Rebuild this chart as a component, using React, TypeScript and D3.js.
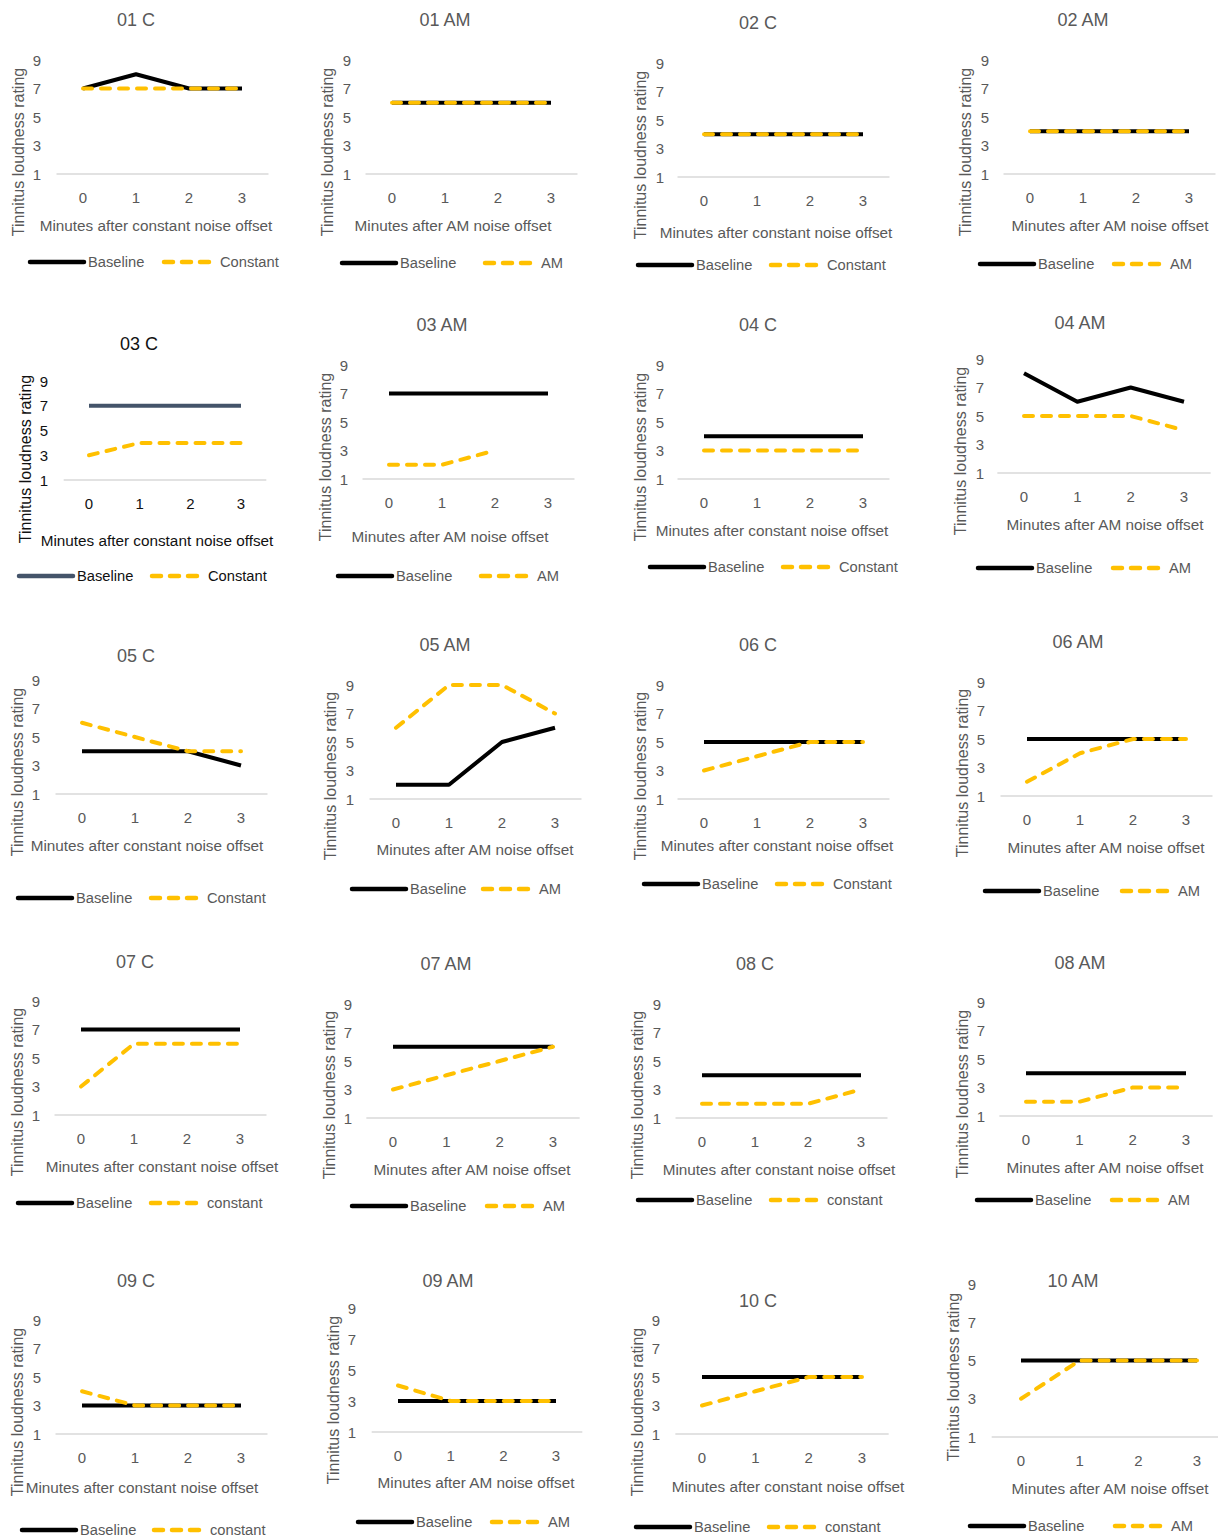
import React from "react";
import * as d3 from "d3";

// data
const minutes = [0, 1, 2, 3];
const yTicks = [1, 3, 5, 7, 9];
const panelTitles = ["01 C", "01 AM", "02 C", "02 AM", "03 C", "03 AM", "04 C", "04 AM", "05 C", "05 AM",
  "06 C", "06 AM", "07 C", "07 AM", "08 C", "08 AM", "09 C", "09 AM", "10 C", "10 AM"];
const noiseLabels = ["Constant", "AM", "Constant", "AM", "Constant", "AM", "Constant", "AM", "Constant", "AM",
  "Constant", "AM", "constant", "AM", "constant", "AM", "constant", "AM", "constant", "AM"];
const baseline: (number | null)[][] = [
  [7, 8, 7, 7], [6, 6, 6, 6], [4, 4, 4, 4], [4, 4, 4, 4],
  [7, 7, 7, 7], [7, 7, 7, 7], [4, 4, 4, 4], [8, 6, 7, 6],
  [4, 4, 4, 3], [2, 2, 5, 6], [5, 5, 5, 5], [5, 5, 5, 5],
  [7, 7, 7, 7], [6, 6, 6, 6], [4, 4, 4, 4], [4, 4, 4, 4],
  [3, 3, 3, 3], [3, 3, 3, 3], [5, 5, 5, 5], [5, 5, 5, 5],
];
const afterNoise: (number | null)[][] = [
  [7, 7, 7, 7], [6, 6, 6, 6], [4, 4, 4, 4], [4, 4, 4, 4],
  [3, 4, 4, 4], [2, 2, 3, null], [3, 3, 3, 3], [5, 5, 5, 4],
  [6, 5, 4, 4], [6, 9, 9, 7], [3, 4, 5, 5], [2, 4, 5, 5],
  [3, 6, 6, 6], [3, 4, 5, 6], [2, 2, 2, 3], [2, 2, 3, 3],
  [4, 3, 3, 3], [4, 3, 3, 3], [3, 4, 5, 5], [3, 5, 5, 5],
];

// layout of each small chart: [titleX, titleY, tickLabelX, y9, y1, x0, x3, xLabelY, xTitleCx, xTitleY, yTitleX, yTitleCy, legendY, legLineX, legDashX]
const layout = [
  [136, 20, 37, 60, 174, 83, 242, 197, 156, 225, 18, 152, 262, 30, 162],
  [445, 20, 347, 60, 174, 392, 551, 197, 453, 225, 327, 152, 263, 342, 483],
  [758, 23, 660, 63, 177, 704, 863, 200, 776, 232, 640, 155, 265, 638, 769],
  [1083, 20, 985, 60, 174, 1030, 1189, 197, 1110, 225, 965, 152, 264, 980, 1112],
  [139, 344, 44, 381, 480, 89, 241, 503, 157, 540, 25, 459, 576, 19, 150],
  [442, 325, 344, 365, 479, 389, 548, 502, 450, 536, 325, 457, 576, 338, 479],
  [758, 325, 660, 365, 479, 704, 863, 502, 772, 530, 640, 457, 567, 650, 781],
  [1080, 323, 980, 359, 473, 1024, 1184, 496, 1105, 524, 960, 451, 568, 978, 1111],
  [136, 656, 36, 680, 794, 82, 241, 817, 147, 845, 17, 772, 898, 18, 149],
  [445, 645, 350, 685, 799, 396, 555, 822, 475, 849, 330, 776, 889, 352, 481],
  [758, 645, 660, 685, 799, 704, 863, 822, 777, 845, 640, 776, 884, 644, 775],
  [1078, 642, 981, 682, 796, 1027, 1186, 819, 1106, 847, 962, 773, 891, 985, 1120],
  [135, 962, 36, 1001, 1115, 81, 240, 1138, 162, 1166, 17, 1092, 1203, 18, 149],
  [446, 964, 348, 1004, 1118, 393, 553, 1141, 472, 1169, 329, 1095, 1206, 352, 485],
  [755, 964, 657, 1004, 1118, 702, 861, 1141, 779, 1169, 637, 1095, 1200, 638, 769],
  [1080, 963, 981, 1002, 1116, 1026, 1186, 1139, 1105, 1167, 962, 1094, 1200, 977, 1110],
  [136, 1281, 37, 1320, 1434, 82, 241, 1457, 142, 1487, 17, 1412, 1530, 22, 152],
  [448, 1281, 352, 1308, 1432, 398, 556, 1455, 476, 1482, 333, 1400, 1522, 358, 490],
  [758, 1301, 656, 1320, 1434, 702, 862, 1457, 788, 1486, 637, 1412, 1527, 636, 767],
  [1073, 1281, 972, 1284, 1437, 1021, 1197, 1460, 1110, 1488, 953, 1377, 1526, 970, 1113],
];

const FONT = "'Liberation Sans', Arial, sans-serif";
const GREY = "#595959";
const ORANGE = "#FFC000";

function Panel({ idx }: { idx: number }) {
  const [tx, ty, tickX, y9, y1, x0, x3, xLabY, xtCx, xtY, ytX, ytCy, legY, legLine, legDash] = layout[idx];
  const step = (x3 - x0) / 3;
  const x = d3.scalePoint<number>().domain(minutes).range([x0 - step / 2, x3 + step / 2]).padding(0.5);
  const y = d3.scaleLinear().domain([1, 9]).range([y1, y9]);
  const line = d3.line<number | null>()
    .defined((d) => d != null)
    .x((_, i) => x(minutes[i]) as number)
    .y((d) => y(d as number));
  const special = idx === 4; // 03 C uses a slate baseline and darker text
  const txt = special ? "#111" : GREY;
  const baseColor = special ? "#44546A" : "#000";
  return (
    <g fontFamily={FONT}>
      <text x={tx} y={ty} textAnchor="middle" dominantBaseline="central" fontSize={18} fill={txt}>{panelTitles[idx]}</text>
      <line x1={x0 - step / 2} x2={x3 + step / 2} y1={y(1)} y2={y(1)} stroke="#d9d9d9" strokeWidth={1.3} />
      {yTicks.map((t) => (
        <text key={t} x={tickX} y={y(t)} textAnchor="middle" dominantBaseline="central" fontSize={15} fill={txt}>{t}</text>
      ))}
      {minutes.map((m) => (
        <text key={m} x={x(m)} y={xLabY} textAnchor="middle" dominantBaseline="central" fontSize={15} fill={txt}>{m}</text>
      ))}
      <text x={xtCx} y={xtY} textAnchor="middle" dominantBaseline="central" fontSize={15.3} fill={txt}>
        {idx % 2 === 0 ? "Minutes after constant noise offset" : "Minutes after AM noise offset"}
      </text>
      <text transform={`translate(${ytX},${ytCy}) rotate(-90)`} textAnchor="middle" dominantBaseline="central" fontSize={16} fill={txt}>
        Tinnitus loudness rating
      </text>
      <path d={line(baseline[idx]) || ""} fill="none" stroke={baseColor} strokeWidth={4} strokeLinejoin="round" />
      <path d={line(afterNoise[idx]) || ""} fill="none" stroke={ORANGE} strokeWidth={4} strokeDasharray="9,9" strokeLinecap="round" strokeLinejoin="round" />
      <line x1={legLine} x2={legLine + 54} y1={legY} y2={legY} stroke={baseColor} strokeWidth={4.5} strokeLinecap="round" />
      <text x={legLine + 58} y={legY} dominantBaseline="central" fontSize={14.7} fill={txt}>Baseline</text>
      <line x1={legDash + 2} x2={legDash + 50} y1={legY} y2={legY} stroke={ORANGE} strokeWidth={4.5} strokeDasharray="9,9" strokeLinecap="round" />
      <text x={legDash + 58} y={legY} dominantBaseline="central" fontSize={14.7} fill={txt}>{noiseLabels[idx]}</text>
    </g>
  );
}

export default function App() {
  return (
    <svg width={1218} height={1539} style={{ position: "absolute", left: 0, top: 0, background: "#fff" }}>
      <rect width={1218} height={1539} fill="#fff" />
      {panelTitles.map((_, i) => <Panel key={i} idx={i} />)}
    </svg>
  );
}
